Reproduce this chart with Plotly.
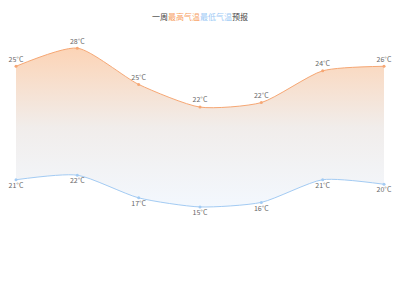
import plotly.graph_objects as go

days = ["周一", "周二", "周三", "周四", "周五", "周六", "周日"]
high = [25, 28, 25, 22, 22, 24, 26]
low = [21, 22, 17, 15, 16, 21, 20]

x = list(range(len(days)))
stack_top = [h + l for h, l in zip(high, low)]

fig = go.Figure()
fig.add_trace(go.Scatter(
    x=x, y=low, mode="lines+markers+text",
    line=dict(color="#a3cbf3", width=1, shape="spline", smoothing=0.65),
    marker=dict(color="#a3cbf3", size=3),
    text=[f"{v}°C" for v in low], textposition="bottom center",
    textfont=dict(size=7, color="#666", family="Noto Sans CJK SC"),
    cliponaxis=False,
    hoverinfo="skip", showlegend=False,
))
fig.add_trace(go.Scatter(
    x=x, y=stack_top, mode="lines+markers+text",
    line=dict(color="#f6a774", width=1, shape="spline", smoothing=0.65),
    marker=dict(color="#f6a774", size=3),
    fill="tonexty",
    fillgradient=dict(type="vertical",
                      colorscale=[[0, "#f3f8fe"], [0.5, "#f1edeb"], [1, "#fcd4b6"]],
                      start=15, stop=50),
    text=[f"{v}°C" for v in high], textposition="top center",
    textfont=dict(size=7, color="#666", family="Noto Sans CJK SC"),
    cliponaxis=False,
    hoverinfo="skip", showlegend=False,
))

fig.update_layout(
    width=400, height=300,
    margin=dict(l=16, r=16, t=20, b=25),
    paper_bgcolor="white", plot_bgcolor="white",
    title=dict(
        text="<span style='color:#444'>一周</span><span style='color:#f7a060'>最高气温</span>"
             "<span style='color:#9ccaf5'>最低气温</span><span style='color:#444'>预报</span>",
        x=0.5, xanchor="center", y=1 - 17 / 300, yanchor="middle",
        font=dict(size=8, family="Noto Sans CJK SC"),
    ),
    xaxis=dict(visible=False, range=[0, 6]),
    yaxis=dict(visible=False, range=[0, 56.2]),
)

fig.write_html("out.html")
